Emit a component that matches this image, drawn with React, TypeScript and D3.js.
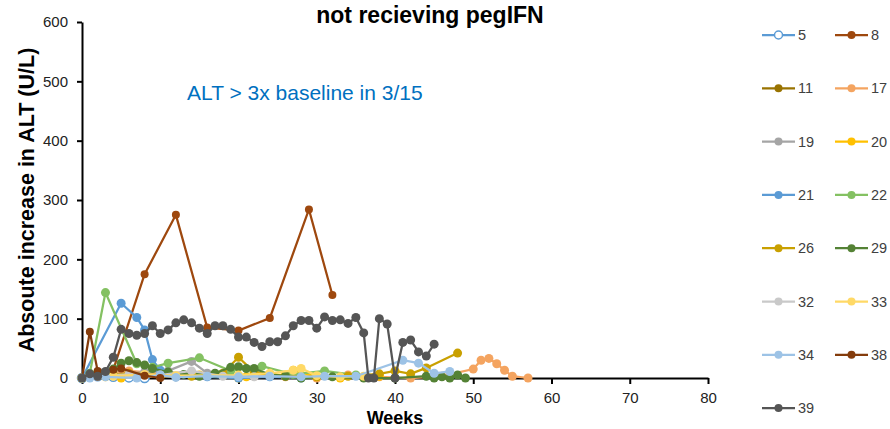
// App.tsx
import React, { useEffect, useRef } from 'react';
import * as d3 from 'd3';

type Pt = [number, number];

// patient ids in legend order
const patients = ['5', '8', '11', '17', '19', '20', '21', '22', '26', '29', '32', '33', '34', '38', '39'];
const patientColors = [
    '#5B9BD5', '#9E480E', '#997300', '#F4A460', '#A5A5A5', '#FFC000', '#5B9BD5', '#84C162',
    '#C9A000', '#548235', '#C9C9C9', '#FFD966', '#9DC3E6', '#843C0C', '#555555'
];

// [week, absolute increase in ALT]
const alt5: Pt[] = [[0, 0], [2, 3], [4, 2], [6, 1], [8, 0]];
const alt8: Pt[] = [[0, 0], [4, 14], [8, 175], [12, 275], [16, 85], [20, 80], [24, 101], [29, 284], [32, 140]];
const alt11: Pt[] = [[0, 0], [2, 5], [4, 8], [6, 10], [8, 6], [10, 4], [12, 2]];
const alt17: Pt[] = [[0, 0], [2, 3], [6, 12], [10, 8], [14, 10], [18, 6], [22, 3], [26, 2], [30, 0], [34, 5], [36, 2], [38, 2], [42, 0], [46, 3], [50, 15], [51, 30], [52, 33], [53, 24], [54, 13], [55, 3], [57, 0]];
const alt19: Pt[] = [[0, 0], [4, 5], [8, 10], [11, 12], [14, 28], [16, 8], [20, 3]];
const alt20: Pt[] = [[0, 0], [3, 2], [5, 0], [10, 3], [15, 5], [20, 0], [21, 2], [22, 8], [26, 5], [27, 13], [30, 2], [33, 0], [38, 3]];
const alt21: Pt[] = [[0, 0], [5, 126], [7, 102], [8, 81], [9, 31], [10, 13], [12, 3], [16, 2], [20, 0], [24, 2], [28, 0]];
const alt22: Pt[] = [[0, 0], [1, 8], [3, 144], [7, 24], [9, 18], [11, 25], [15, 34], [19, 12], [23, 20], [27, 6], [31, 12], [35, 5]];
const alt26: Pt[] = [[0, 0], [4, 5], [6, 8], [10, 5], [14, 3], [18, 8], [20, 35], [22, 10], [26, 3], [30, 2], [34, 3], [38, 7], [40, 12], [42, 7], [44, 17], [48, 42]];
const alt29: Pt[] = [[0, 0], [2, 8], [4, 15], [5, 25], [6, 29], [7, 26], [8, 22], [9, 16], [11, 10], [13, 6], [15, 3], [17, 8], [19, 18], [20, 19], [21, 16], [22, 16], [24, 6], [26, 3], [28, 0], [32, 2], [36, 0], [40, 0], [44, 3], [45, 0], [46, 2], [47, 0], [48, 5], [49, 0]];
const alt32: Pt[] = [[0, 0], [3, 4], [6, 6], [10, 5], [14, 12], [18, 3], [22, 2]];
const alt33: Pt[] = [[0, 0], [4, 3], [8, 6], [12, 4], [20, 5], [24, 8], [27, 13], [28, 16], [30, 4], [33, 2], [36, 3]];
const alt34: Pt[] = [[0, 0], [1, 0], [3, 2], [7, 0], [10, 5], [12, 1], [16, 3], [20, 2], [24, 3], [28, 2], [31, 3], [35, 3], [41, 30], [43, 25], [45, 8], [47, 11]];
const alt38: Pt[] = [[0, 0], [1, 78], [2, 12], [4, 14], [5, 16], [8, 4], [10, 0]];
const alt39: Pt[] = [[0, 0], [1, 7], [2, 3], [3, 11], [4, 35], [5, 82], [6, 75], [7, 72], [8, 75], [9, 88], [10, 75], [11, 81], [12, 93], [13, 98], [14, 93], [15, 84], [16, 75], [17, 88], [18, 88], [19, 82], [20, 69], [21, 69], [22, 60], [23, 53], [24, 61], [25, 61], [26, 71], [27, 88], [28, 97], [29, 97], [30, 84], [31, 103], [32, 97], [33, 98], [34, 92], [35, 102], [36, 76], [36.6, 0], [37.3, 0], [38, 100], [39, 91], [40, 0], [41, 60], [42, 64], [43, 44], [44, 37], [45, 57]];

const patientData = [alt5, alt8, alt11, alt17, alt19, alt20, alt21, alt22, alt26, alt29, alt32, alt33, alt34, alt38, alt39];

const xTicks = [0, 10, 20, 30, 40, 50, 60, 70, 80];
const yTicks = [0, 100, 200, 300, 400, 500, 600];

const FONT = "Arial, 'Liberation Sans', sans-serif";

export default function App() {
    const svgRef = useRef<SVGSVGElement>(null);

    useEffect(() => {
        const svg = d3.select(svgRef.current);
        svg.selectAll('*').remove();

        const x = d3.scaleLinear().domain([0, 80]).range([82, 708]);
        const y = d3.scaleLinear().domain([0, 600]).range([378, 22]);

        // title (only the second line is visible)
        svg.append('text')
            .attr('x', 430).attr('y', 23)
            .attr('text-anchor', 'middle')
            .attr('font-family', FONT).attr('font-weight', 'bold').attr('font-size', 23)
            .attr('fill', '#000')
            .text('not recieving pegIFN');

        // axes
        const yAxis = svg.append('g')
            .attr('transform', 'translate(82,0)')
            .call(d3.axisLeft(y).tickValues(yTicks).tickSize(5).tickSizeOuter(0).tickPadding(9));
        const xAxis = svg.append('g')
            .attr('transform', 'translate(0,378)')
            .call(d3.axisBottom(x).tickValues(xTicks).tickSize(6).tickSizeOuter(0).tickPadding(8));
        [xAxis, yAxis].forEach((g) => {
            g.select('.domain').attr('stroke', '#000').attr('stroke-width', 2);
            g.selectAll('.tick line').attr('stroke', '#000').attr('stroke-width', 2);
            g.selectAll('.tick text')
                .attr('font-family', FONT).attr('font-size', 15).attr('fill', '#222');
        });

        // axis titles
        svg.append('text')
            .attr('transform', 'translate(34,200) rotate(-90)')
            .attr('text-anchor', 'middle')
            .attr('font-family', FONT).attr('font-weight', 'bold').attr('font-size', 21.5)
            .text('Absoute increase in ALT (U/L)');
        svg.append('text')
            .attr('x', 395).attr('y', 424)
            .attr('text-anchor', 'middle')
            .attr('font-family', FONT).attr('font-weight', 'bold').attr('font-size', 18)
            .text('Weeks');

        // annotation
        svg.append('text')
            .attr('x', 187).attr('y', 100)
            .attr('font-family', FONT).attr('font-size', 21)
            .attr('fill', '#0070C0')
            .text('ALT > 3x baseline in 3/15');

        // series
        const line = d3.line<Pt>().x((d) => x(d[0])).y((d) => y(d[1]));
        patientData.forEach((data, i) => {
            const color = patientColors[i];
            const hollow = patients[i] === '5';
            const g = svg.append('g');
            g.append('path')
                .datum(data)
                .attr('d', line)
                .attr('fill', 'none')
                .attr('stroke', color)
                .attr('stroke-width', 2.25);
            g.selectAll('circle')
                .data(data)
                .enter()
                .append('circle')
                .attr('cx', (d) => x(d[0]))
                .attr('cy', (d) => y(d[1]))
                .attr('r', patients[i] === '8' || patients[i] === '38' ? 4 : 4.5)
                .attr('fill', hollow ? '#fff' : color)
                .attr('stroke', hollow ? color : 'none')
                .attr('stroke-width', 1.5);
        });

        // legend
        const legend = svg.append('g');
        patients.forEach((p, i) => {
            const col = i % 2;
            const row = Math.floor(i / 2);
            const lx = 762 + col * 73;
            const ly = 35 + row * 53.3;
            const color = patientColors[i];
            const hollow = p === '5';
            legend.append('line')
                .attr('x1', lx).attr('x2', lx + 33)
                .attr('y1', ly).attr('y2', ly)
                .attr('stroke', color).attr('stroke-width', 2.25);
            legend.append('circle')
                .attr('cx', lx + 16.5).attr('cy', ly).attr('r', 4)
                .attr('fill', hollow ? '#fff' : color)
                .attr('stroke', hollow ? color : 'none')
                .attr('stroke-width', 1.5);
            legend.append('text')
                .attr('x', lx + 36).attr('y', ly + 5)
                .attr('font-family', FONT).attr('font-size', 14.5)
                .attr('fill', '#404040')
                .text(p);
        });
    }, []);

    return (
        <svg ref={svgRef} width={890} height={429}
            style={{ position: 'absolute', left: 0, top: 0, background: '#fff' }}></svg>
    );
}
